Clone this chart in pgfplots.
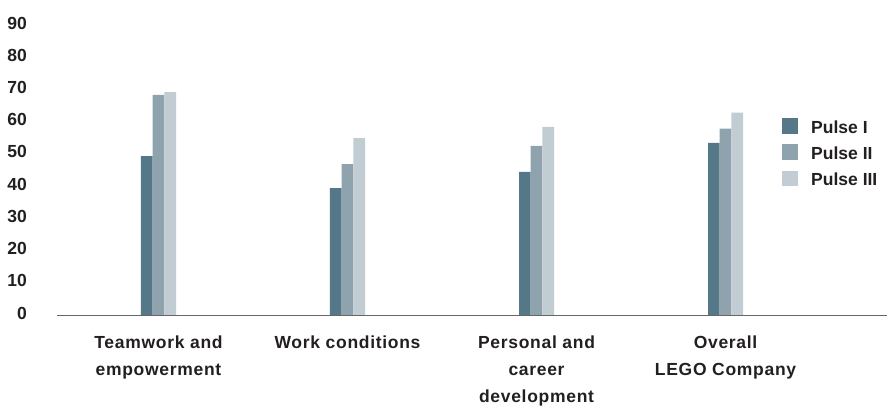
\documentclass[border=0pt]{standalone}
\usepackage{fontspec}
\setmainfont{Liberation Sans}
\newfontfamily\widefont{Liberation Sans}[LetterSpace=4]
\usepackage{pgfplots}
\pgfplotsset{compat=1.18}

\definecolor{pulseA}{RGB}{85,120,136}
\definecolor{pulseB}{RGB}{143,163,174}
\definecolor{pulseC}{RGB}{193,204,211}
\definecolor{inkcol}{RGB}{35,31,32}
\definecolor{basecol}{RGB}{102,102,102}

\newcommand{\chartfont}{\fontsize{17.5}{27}\selectfont\bfseries}
\newcommand{\catfont}{\widefont\fontsize{17.5}{27}\selectfont\bfseries}

\begin{document}
\begin{tikzpicture}
\useasboundingbox (0,0) rectangle (887pt,408pt);
\begin{axis}[
  at={(57pt,92.7pt)}, anchor=south west,
  scale only axis, width=830pt, height=290pt,
  xmin=-0.537, xmax=3.854, ymin=0, ymax=90,
  ybar=0pt, bar width=11.7pt,
  axis line style={draw=none},
  major tick length=0pt,
  clip=false,
  xtick={0,1,2,3},
  xticklabels={{Teamwork and\\empowerment},{Work conditions},{Personal and\\career\\development},{Overall\\LEGO Company}},
  ytick={0,10,...,90},
  /pgf/number format/assume math mode=true,
  xticklabel style={anchor=north, inner sep=0pt, yshift=-20pt, align=center, font=\catfont, text=inkcol},
  yticklabel style={anchor=east, inner sep=0pt, xshift=-30pt, yshift=2.3pt, font=\chartfont, text=inkcol},
  legend style={at={(0.8735,0.681)}, anchor=north west, draw=none, fill=none,
    inner sep=0pt, row sep=9.7pt, column sep=13pt,
    font=\chartfont, text=inkcol, nodes={inner sep=0pt}},
  legend cell align=left,
  legend image code/.code={\fill[#1,draw=none] (0pt,-6pt) rectangle (16pt,9.5pt);},
]
\addplot[fill=pulseA, draw=none] coordinates {(0,49.4) (1,39.5) (2,44.5) (3,53.5)};
\addplot[fill=pulseB, draw=none] coordinates {(0,68.4) (1,46.9) (2,52.6) (3,57.9)};
\addplot[fill=pulseC, draw=none] coordinates {(0,69.3) (1,55.0) (2,58.5) (3,62.9)};
\legend{Pulse I, Pulse II, Pulse III}
\draw[basecol, line width=1.6pt] (rel axis cs:0,0) -- (rel axis cs:1,0);
\end{axis}
\end{tikzpicture}
\end{document}
